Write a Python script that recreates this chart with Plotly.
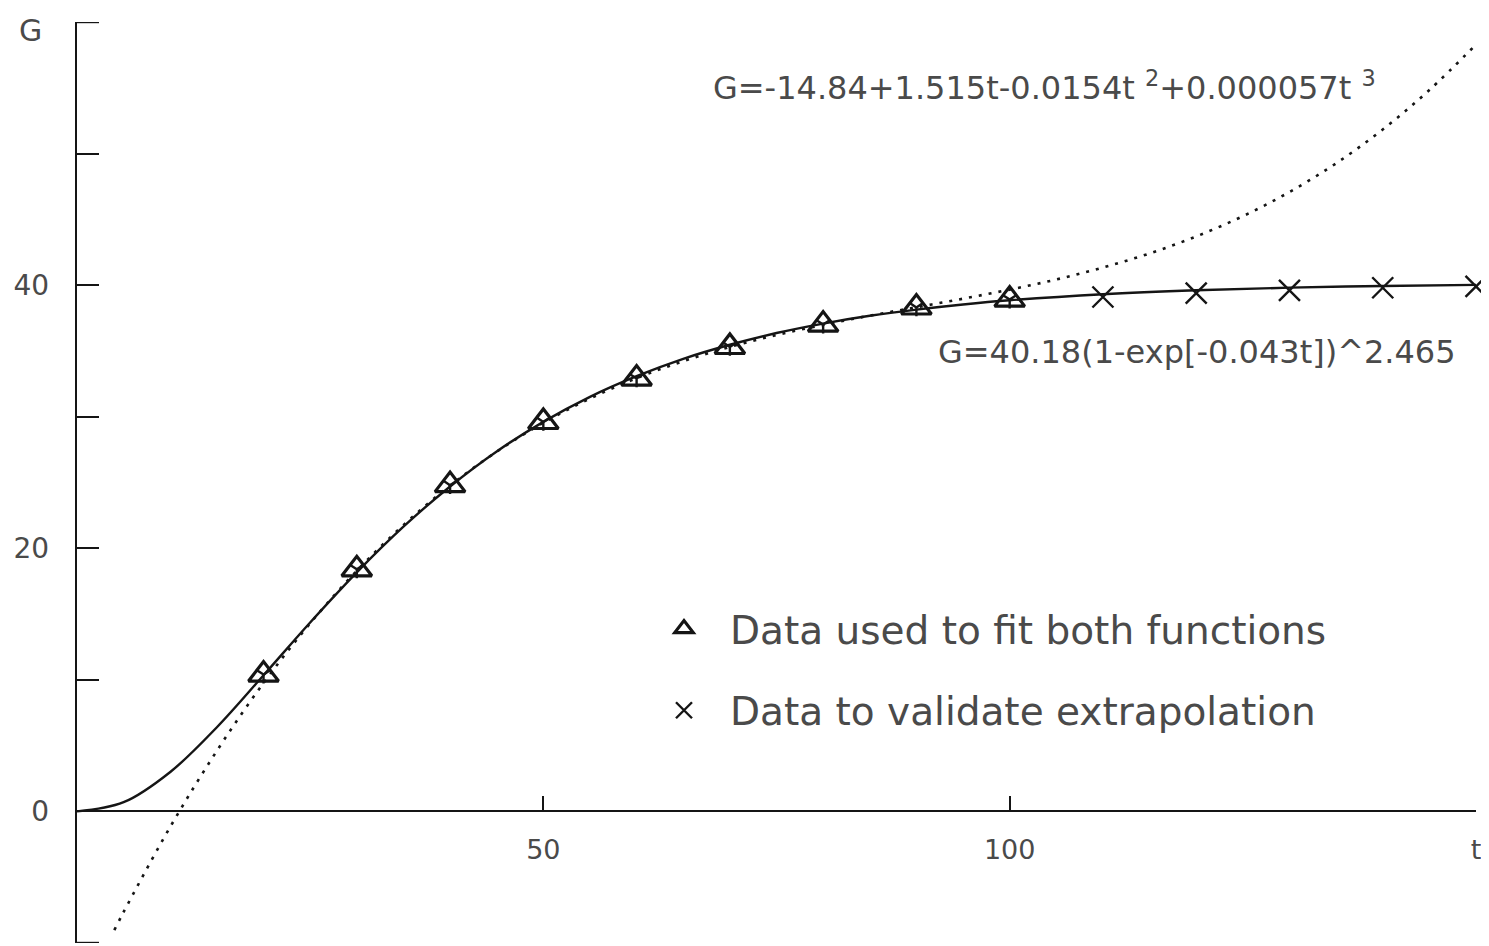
import plotly.graph_objects as go

# ---- data ----
fit_t = [20, 30, 40, 50, 60, 70, 80, 90, 100]
fit_G = [10.4, 18.4, 24.8, 29.6, 32.9, 35.3, 37.0, 38.3, 38.9]

val_t = [110, 120, 130, 140, 150]
val_G = [39.1, 39.4, 39.6, 39.8, 39.9]

rich_t = [0, 5, 10, 15, 20, 25, 30, 35, 40, 45, 50, 55, 60, 65, 70, 75, 80, 85, 90, 95, 100,
          110, 120, 130, 140, 150]
rich_G = [0.0, 0.7, 3.0, 6.4, 10.35, 14.36, 18.17, 21.64, 24.7, 27.36, 29.61, 31.51, 33.08,
          34.4, 35.47, 36.36, 37.08, 37.67, 38.14, 38.53, 38.85, 39.31, 39.61, 39.81, 39.94, 40.02]

cub_t = [4, 5, 10, 15, 20, 25, 30, 35, 40, 45, 50, 55, 60, 65, 70, 75, 80, 85, 90, 95, 100,
         105, 110, 115, 120, 125, 130, 135, 140, 145, 150]
cub_G = [-9.02, -7.64, -1.17, 4.61, 9.76, 14.30, 18.29, 21.76, 24.77, 27.34, 29.54, 31.38,
         32.93, 34.22, 35.30, 36.21, 36.98, 37.68, 38.32, 38.97, 39.66, 40.43, 41.34, 42.41,
         43.70, 45.24, 47.08, 49.26, 51.83, 54.83, 58.29]

x_tickvals = [50, 100, 150]
x_ticktext = ["50", "100", "t"]
y_tickvals = [0, 20, 40]
y_ticktext = ["0", "20", "40"]
y_end_ticks = [-10, 60]
y_title = "G"

eq_cubic = "G=-14.84+1.515t-0.0154t <sup>2</sup>+0.000057t <sup>3</sup>"
eq_rich = "G=40.18(1-exp[-0.043t])^2.465"

INK = "#151515"
TXT = "#4a4a4a"
FONT = "DejaVu Sans"

fig = go.Figure()

fig.add_trace(go.Scatter(x=cub_t, y=cub_G, mode="lines", line=dict(color=INK, width=2.6, dash="3px,7px", shape="spline"),
                         showlegend=False, hoverinfo="skip", cliponaxis=False))
fig.add_trace(go.Scatter(x=rich_t, y=rich_G, mode="lines", line=dict(color=INK, width=2.4, shape="spline"),
                         showlegend=False, hoverinfo="skip", cliponaxis=False))
fig.add_trace(go.Scatter(x=fit_t, y=fit_G, mode="markers", name="Data used to fit both functions",
                         marker=dict(symbol="triangle-up-open", size=26, color=INK, line=dict(width=3.2, color=INK)),
                         legendgroup="a", cliponaxis=False))
fig.add_trace(go.Scatter(x=fit_t, y=fit_G, mode="markers", showlegend=False,
                         marker=dict(symbol="y-down-open", size=11, color=INK, line=dict(width=2.4, color=INK)),
                         hoverinfo="skip", cliponaxis=False))
fig.add_trace(go.Scatter(x=val_t, y=val_G, mode="markers", name="Data to validate extrapolation",
                         marker=dict(symbol="x-thin-open", size=21, color=INK, line=dict(width=2.4, color=INK)),
                         legendgroup="b", cliponaxis=False))

fig.add_annotation(x=0.453, y=0.931, xref="paper", yref="paper", text=eq_cubic, showarrow=False,
                   xanchor="left", yanchor="middle", font=dict(family=FONT, size=32, color=TXT))
fig.add_annotation(x=0.614, y=0.642, xref="paper", yref="paper", text=eq_rich, showarrow=False,
                   xanchor="left", yanchor="middle", font=dict(family=FONT, size=32, color=TXT))
fig.add_annotation(x=-0.0335, y=0.991, xref="paper", yref="paper", text=y_title, showarrow=False,
                   xanchor="center", yanchor="middle", font=dict(family=FONT, size=30, color=TXT))

# end ticks of the y axis (at the range limits)
for v in y_end_ticks:
    fig.add_shape(type="line", xref="x domain", yref="y", x0=0, x1=22 / 1399, y0=v, y1=v,
                  line=dict(color=INK, width=2.4))

fig.update_layout(
    width=1489, height=946,
    margin=dict(l=69, r=21, t=14, b=11),
    paper_bgcolor="white", plot_bgcolor="white",
    font=dict(family=FONT, color=TXT, size=26),
    legend=dict(x=0.401, y=0.376, xanchor="left", yanchor="top", bgcolor="rgba(0,0,0,0)",
                font=dict(family=FONT, size=39, color=TXT), tracegroupgap=28, itemwidth=82),
    xaxis=dict(range=[0, 150], anchor="free", position=10/70, showgrid=False, zeroline=False,
               automargin=False, ticklabeloverflow="allow",
               showline=True, linecolor=INK, linewidth=2.4,
               tickmode="array", tickvals=x_tickvals, ticktext=x_ticktext,
               ticks="inside", ticklen=14, tickwidth=2.4, tickcolor=INK,
               ticklabelstandoff=14, tickfont=dict(size=27, color=TXT)),
    yaxis=dict(range=[-10, 60], showgrid=False, zeroline=False,
               automargin=False, ticklabeloverflow="allow",
               showline=True, linecolor=INK, linewidth=2.4,
               tickmode="array", tickvals=y_tickvals, ticktext=y_ticktext,
               ticks="inside", ticklen=22, tickwidth=2.4, tickcolor=INK,
               minor=dict(dtick=10, tick0=0, ticks="inside", ticklen=22, tickwidth=2.4,
                          tickcolor=INK, showgrid=False),
               ticklabelstandoff=20, tickfont=dict(size=28, color=TXT)),
)

fig.write_html("out.html")
